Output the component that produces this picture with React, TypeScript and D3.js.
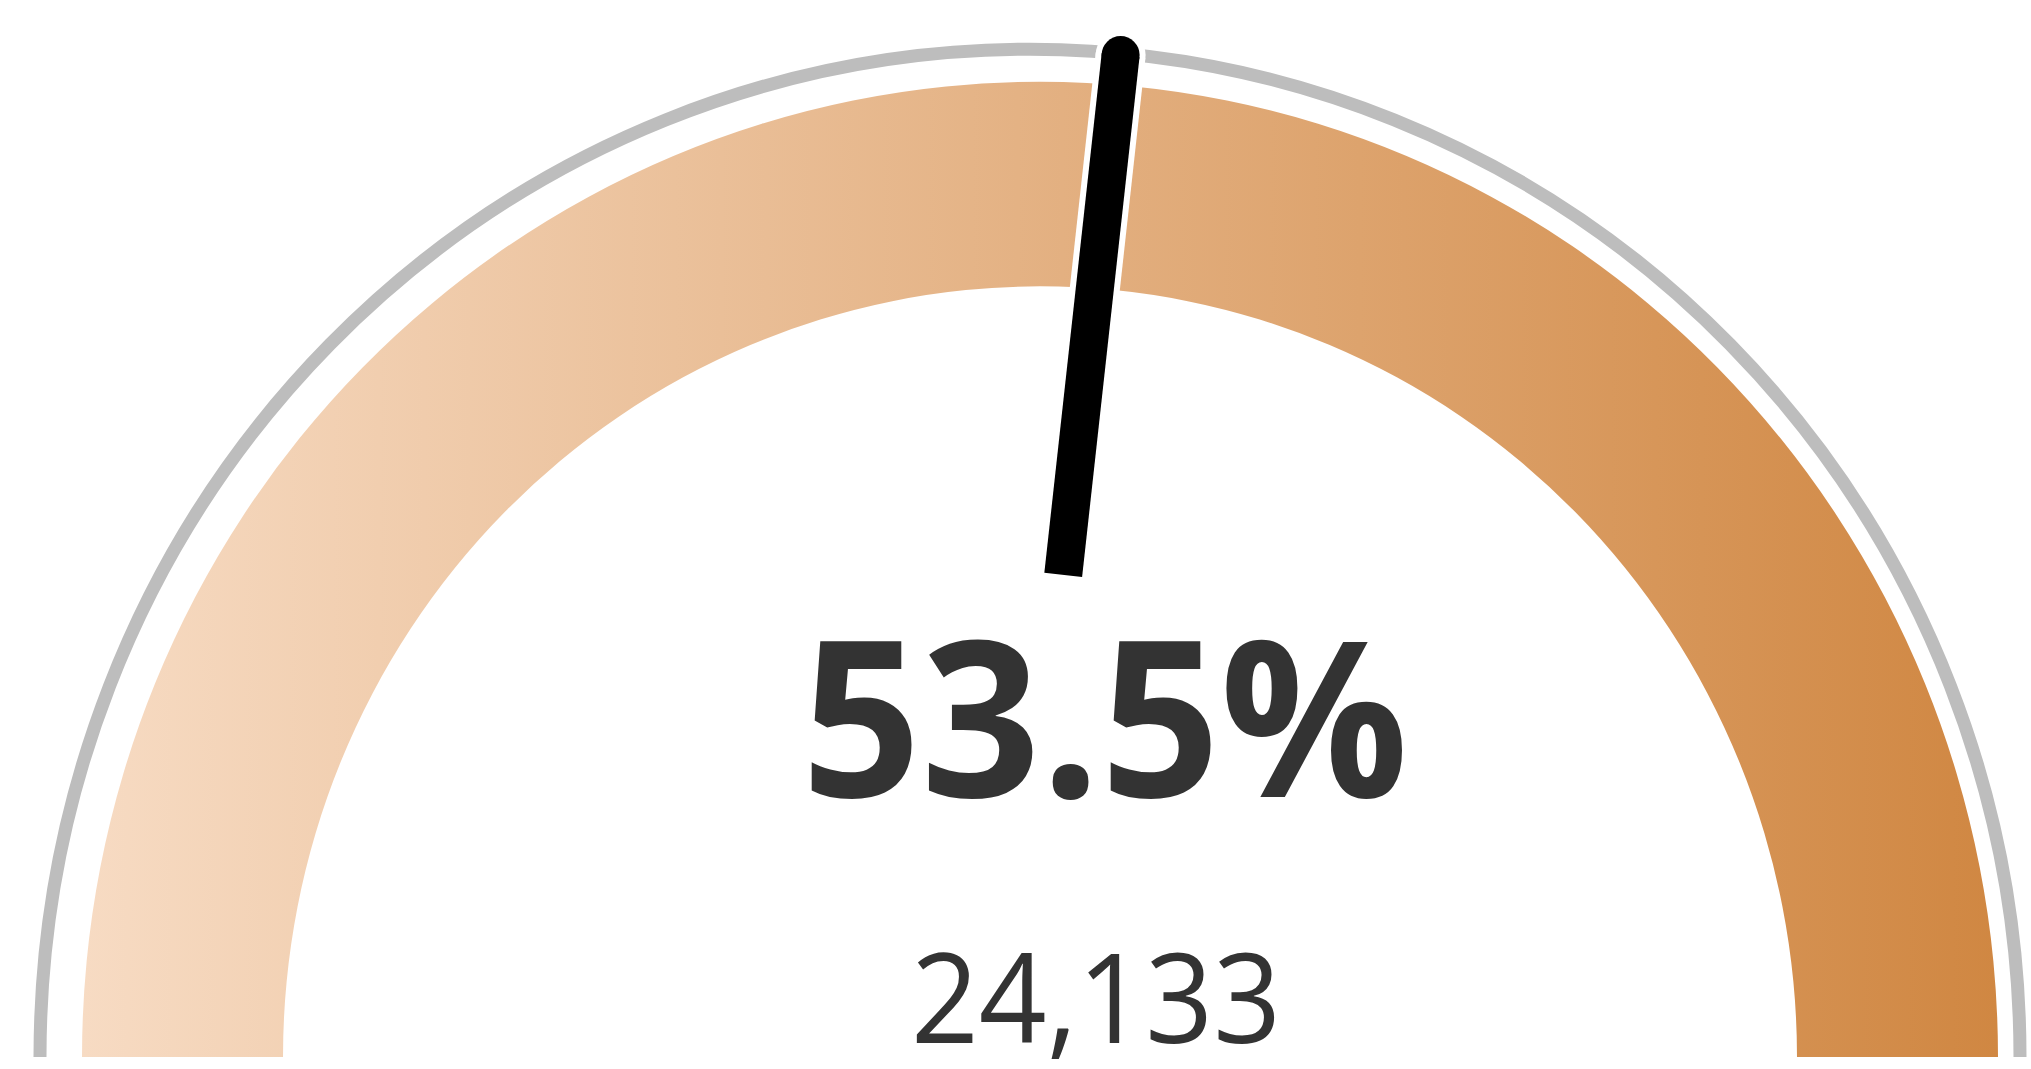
import React, { useEffect, useRef } from 'react';
import * as d3 from 'd3';

// gauge data
const gaugeDomain: [number, number] = [0, 1];
const gaugeValue = 0.535; // shown as percent, also drives the needle
const gaugeCount = 24133;
const gradientColors = ['#F7DBC3', '#D08742'];

const W = 2031;
const H = 1069;

const App = () => {
  const ref = useRef<SVGSVGElement>(null);

  useEffect(() => {
    drawChart();
  }, []);

  const drawChart = () => {
    const svg = d3.select(ref.current);
    svg.selectAll('*').remove();

    const baseY = 1057;
    const bandCx = 1040;
    const ringCx = 1030;
    const squash = 1.018; // dial is a touch taller than wide

    // value -> angle (radians), half circle
    const angle = d3.scaleLinear().domain(gaugeDomain).range([-Math.PI / 2, Math.PI / 2]);

    const defs = svg.append('defs');
    const grad = defs.append('linearGradient')
      .attr('id', 'bandGrad')
      .attr('x1', '0').attr('x2', '1').attr('y1', '0').attr('y2', '0');
    grad.selectAll('stop')
      .data(gradientColors)
      .enter().append('stop')
      .attr('offset', (d, i) => i / (gradientColors.length - 1))
      .attr('stop-color', d => d);

    // outer thin gray ring
    const ringArc = d3.arc<any>()
      .innerRadius(990)
      .outerRadius(990)
      .startAngle(angle(gaugeDomain[0]))
      .endAngle(angle(gaugeDomain[1]));

    svg.append('g')
      .attr('transform', `translate(${ringCx},${baseY}) scale(1,${squash})`)
      .append('path')
      .attr('d', ringArc({}) as string)
      .attr('fill', 'none')
      .attr('stroke', '#BDBDBD')
      .attr('stroke-width', 13)
      .attr('vector-effect', 'non-scaling-stroke');

    // colored band
    const bandArc = d3.arc<any>()
      .innerRadius(757)
      .outerRadius(958)
      .startAngle(angle(gaugeDomain[0]))
      .endAngle(angle(gaugeDomain[1]));

    svg.append('g')
      .attr('transform', `translate(${bandCx},${baseY}) scale(1,${squash})`)
      .append('path')
      .attr('d', bandArc({}) as string)
      .attr('fill', 'url(#bandGrad)');

    // needle, pivot a bit left of the dial centre
    const pivotX = 1010;
    const rIn = 485;
    const rOut = 1008;
    const a = angle(gaugeValue);
    const pt = (r: number) => [pivotX + r * Math.sin(a), baseY - r * Math.cos(a)];
    const p1 = pt(rIn);
    const p2 = pt(rOut);
    const p1w = pt(rIn + 2);

    const needle = svg.append('g');
    needle.append('line')
      .attr('x1', p1w[0]).attr('y1', p1w[1])
      .attr('x2', p2[0]).attr('y2', p2[1])
      .attr('stroke', '#fff')
      .attr('stroke-width', 50);
    needle.append('circle')
      .attr('cx', p2[0]).attr('cy', p2[1])
      .attr('r', 25)
      .attr('fill', '#fff');
    needle.append('line')
      .attr('x1', p1[0]).attr('y1', p1[1])
      .attr('x2', p2[0]).attr('y2', p2[1])
      .attr('stroke', '#000')
      .attr('stroke-width', 38);
    needle.append('circle')
      .attr('cx', p2[0]).attr('cy', p2[1])
      .attr('r', 19)
      .attr('fill', '#000');

    // labels
    svg.append('text')
      .attr('x', 1105)
      .attr('y', 797)
      .attr('text-anchor', 'middle')
      .attr('textLength', 607)
      .attr('lengthAdjust', 'spacingAndGlyphs')
      .style('font-family', '"Open Sans", sans-serif')
      .style('font-weight', 700)
      .style('font-size', '217px')
      .style('fill', '#333333')
      .text(d3.format('.1%')(gaugeValue));

    svg.append('text')
      .attr('x', 1096)
      .attr('y', 1043)
      .attr('text-anchor', 'middle')
      .attr('textLength', 370)
      .attr('lengthAdjust', 'spacingAndGlyphs')
      .style('font-family', '"Open Sans", sans-serif')
      .style('font-weight', 400)
      .style('font-size', '125px')
      .style('fill', '#333333')
      .text(d3.format(',')(gaugeCount));
  };

  return (
    <svg
      ref={ref}
      width={W}
      height={H}
      style={{ position: 'absolute', left: 0, top: 0, background: '#fff' }}
    />
  );
};

export default App;
